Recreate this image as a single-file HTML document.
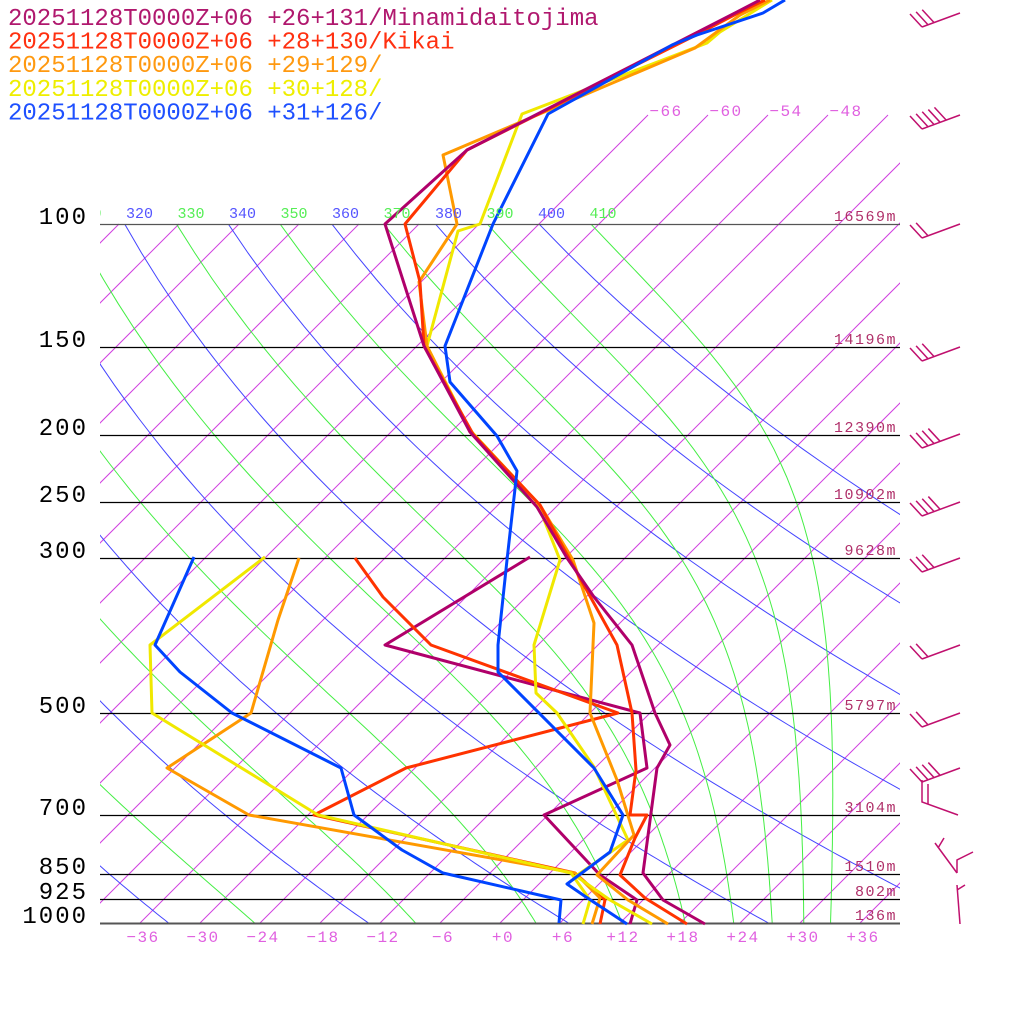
<!DOCTYPE html>
<html><head><meta charset="utf-8"><style>
html,body{margin:0;padding:0;background:#fff;width:1024px;height:1024px;overflow:hidden}
svg{display:block}
text{font-family:"Liberation Mono",monospace}
</style></head><body>
<svg id="s" width="1024" height="1024" xmlns="http://www.w3.org/2000/svg">
<defs><clipPath id="c"><rect x="100" y="224" width="800" height="699"/></clipPath>
<clipPath id="c2"><rect x="100" y="0" width="800" height="923"/></clipPath></defs>
<g id="grid"></g>
<g id="ser" fill="none" stroke-width="3" stroke-linejoin="round"></g>
<g id="txt"></g>
</svg>
<script>
const NS="http://www.w3.org/2000/svg";
function el(p,t,a,txt){const e=document.createElementNS(NS,t);for(const k in a)e.setAttribute(k,a[k]);if(txt!==undefined)e.textContent=txt;p.appendChild(e);return e;}
const g=document.getElementById('grid'),S=document.getElementById('ser'),T=document.getElementById('txt');
const B=303.5;
function yp(p){return 923-B*Math.log(1000/p);}
function xt(t,y){return 500+10*t+(923-y);}
const gi=el(g,'g',{'clip-path':'url(#c2)',stroke:'#d040e0','stroke-width':1});
for(let t=-132;t<=60;t+=6){
  const ytop=(t>=-66)?115:224;
  el(gi,'line',{x1:xt(t,923),y1:923,x2:xt(t,ytop),y2:ytop});
}
[[-66,666],[-60,726],[-54,786],[-48,846]].forEach(a=>el(T,'text',{x:a[1],y:116,'font-size':16,'letter-spacing':1.5,fill:'#e060e0','text-anchor':'middle'},String(a[0]).replace('-','−')));
const gc=el(g,'g',{'clip-path':'url(#c)',fill:'none','stroke-width':1});
for(let th=200;th<=400;th+=20){
  let d='';for(let p=100;p<=1000;p+=10){const y=yp(p);const t=th*Math.pow(p/1000,0.2857)-273.15;d+=(p==100?'M':'L')+xt(t,y).toFixed(1)+' '+y.toFixed(1);}
  el(gc,'path',{d:d,stroke:'#4444ff'});
}
function es(tc){return 6.112*Math.exp(17.67*tc/(tc+243.5));}
function dTdp(T,p){const e=es(T-273.15);const rs=0.622*e/(p-e);return (287*T+2.5e6*rs)/(1005+2.5e6*2.5e6*rs*0.622/(287*T*T))/p;}
for(let th=210;th<=410;th+=20){
  let Tk=th*Math.pow(0.1,0.2857),p=100,d='M'+xt(Tk-273.15,yp(100)).toFixed(1)+' '+yp(100).toFixed(1);
  while(p<1000){const h=2;const k1=dTdp(Tk,p);const k2=dTdp(Tk+k1*h,p+h);Tk+=h*(k1+k2)/2;p+=h;if(p%10==0){const y=yp(p);d+='L'+xt(Tk-273.15,y).toFixed(1)+' '+y.toFixed(1);}}
  el(gc,'path',{d:d,stroke:'#44ee44'});
}
for(let i=0;i<11;i++){const th=310+10*i;el(T,'text',{x:88+51.5*i,y:218,'font-size':15,fill:(i%2?'#5555ff':'#55ee55'),'text-anchor':'middle','clip-path':'url(#c2)'},th);}
const lv=[[100,'16569m'],[150,'14196m'],[200,'12390m'],[250,'10902m'],[300,'9628m'],[500,'5797m'],[700,'3104m'],[850,'1510m'],[925,'802m'],[1000,'136m']];
lv.forEach(a=>{const y=Math.round(yp(a[0]));el(g,'line',{x1:100,x2:900,y1:y+0.5,y2:y+0.5,stroke:a[0]==1000||a[0]==100?'#555':'#000','stroke-width':a[0]==1000?2:1.3});
el(T,'text',{x:897,y:y-3,'font-size':15,'letter-spacing':1.5,fill:'#b0306a','text-anchor':'end'},a[1]);
el(T,'text',{x:88,y:y,'font-size':24,'letter-spacing':2,fill:'#000','text-anchor':'end'},a[0]);});
for(let t=-36;t<=36;t+=6){el(T,'text',{x:500+10*t+3,y:942,'font-size':16,'letter-spacing':1.5,fill:'#e060e0','text-anchor':'middle'},(t<0?'−'+(-t):'+'+t));}
const L=[['#b0186e','+26+131/Minamidaitojima'],['#ff3010','+28+130/Kikai'],['#ff9910','+29+129/'],['#eeee00','+30+128/'],['#1e50ff','+31+126/']];
L.forEach((a,i)=>el(T,'text',{x:8,y:25+23.6*i,'font-size':24,fill:a[0],'xml:space':'preserve'},'20251128T0000Z+06 '+a[1]));
function pl(pts,c){el(S,'polyline',{points:pts.map(p=>p.join(',')).join(' '),stroke:c});}
const P='#b0006a',R='#ff3300',O='#ff9900',Y='#f0e800',Bl='#0044ff';
pl([[530,557],[385,645],[640,713],[647,768],[544,815],[600,875],[637,900],[630,924]],P);
pl([[355,558],[383,597],[431,645],[618,713],[406,768],[314,815],[575,873],[605,900],[600,924]],R);
pl([[299,558],[278,620],[251,713],[167,768],[249,815],[575,873],[600,898],[592,924]],O);
pl([[265,557],[150,645],[152,713],[318,815],[571,873],[590,900],[583,924]],Y);
pl([[194,557],[155,645],[180,672],[232,713],[341,768],[354,815],[402,850],[443,873],[561,900],[559,923]],Bl);
pl([[772,0],[720,32],[707,43],[522,114],[480,224],[458,231],[427,346],[470,430],[537,502],[560,560],[534,645],[536,693],[557,713],[594,767],[628,840],[576,876],[610,900],[652,924]],Y);
pl([[770,0],[740,15],[695,48],[443,155],[457,224],[419,282],[427,346],[470,432],[540,505],[573,560],[594,623],[590,713],[617,780],[634,835],[597,875],[628,900],[668,924]],O);
pl([[765,0],[740,12],[690,38],[467,150],[405,224],[420,282],[424,346],[473,434],[540,505],[570,560],[617,645],[632,713],[636,770],[630,815],[647,815],[635,838],[620,875],[645,898],[687,924]],R);
pl([[760,0],[737,12],[467,150],[385,224],[424,346],[470,432],[537,507],[567,558],[594,597],[632,645],[655,713],[670,745],[657,768],[643,873],[663,900],[705,924]],P);
pl([[785,0],[763,13],[697,35],[672,45],[548,114],[493,224],[445,346],[450,382],[497,436],[517,471],[507,560],[498,645],[498,672],[594,768],[623,815],[610,852],[567,884],[586,897],[627,924]],Bl);
const gw=el(g,'g',{stroke:'#c0106e','stroke-width':1.5,fill:'none'});
function barb(y,n){el(gw,'line',{x1:960,y1:y,x2:922,y2:y+14});
 for(let i=0;i<n;i++){const bx=922+i*6.5*0.94,by=y+14-i*6.5*0.33;el(gw,'line',{x1:bx,y1:by,x2:bx-12,y2:by-13});}}
[[13,3],[115,5],[224,2],[347,3],[434,4],[502,4],[558,3],[645,2],[713,2],[768,4]].forEach(a=>barb(a[0],a[1]));
el(gw,'polyline',{points:'922,780 922,802 958,815'});
el(gw,'line',{x1:928,y1:784,x2:928,y2:804});
el(gw,'line',{x1:935,y1:843,x2:957,y2:873});
el(gw,'line',{x1:938,y1:848,x2:944,y2:838});
el(gw,'polyline',{points:'957,873 957,860 973,852'});
el(gw,'line',{x1:957,y1:885,x2:960,y2:924});
el(gw,'line',{x1:957,y1:890,x2:965,y2:885});
</script>
</body></html>
